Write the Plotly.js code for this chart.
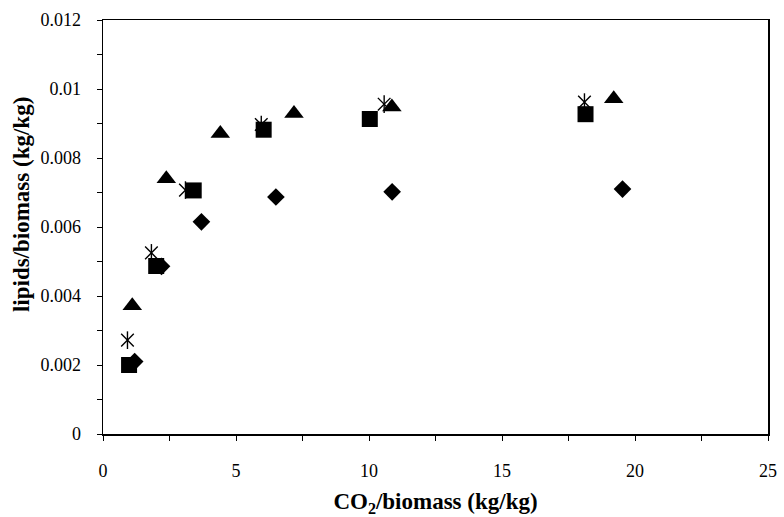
<!DOCTYPE html>
<html>
<head>
<meta charset="utf-8">
<script src="https://cdn.plot.ly/plotly-3.0.1.min.js"></script>
<style>html,body{margin:0;padding:0;background:#fff;}#chart{width:784px;height:517px;}</style>
</head>
<body>
<div id="chart"></div>
<script>
// Series 1: diamonds
const diamondX = [1.19, 2.2, 3.7, 6.5, 10.87, 19.53];
const diamondY = [0.0021, 0.00486, 0.00615, 0.00687, 0.00702, 0.00710];
// Series 2: squares
const squareX = [0.98, 2.0, 3.41, 6.04, 10.03, 18.14];
const squareY = [0.0020, 0.00487, 0.00706, 0.00882, 0.00913, 0.00927];
// Series 3: triangles
const triangleX = [1.1, 2.38, 4.41, 7.18, 10.86, 19.2];
const triangleY = [0.00372, 0.00740, 0.00871, 0.00929, 0.00948, 0.00972];
// Series 4: asterisks
const starX = [0.92, 1.82, 3.1, 5.95, 10.57, 18.1];
const starY = [0.00272, 0.00525, 0.00707, 0.00897, 0.00956, 0.00962];

const xTitle = 'CO<sub>2</sub>/biomass (kg/kg)';
const yTitle = 'lipids/biomass (kg/kg)';

const font = 'Liberation Serif, Times New Roman, serif';

const traces = [
  {x: diamondX, y: diamondY, mode: 'markers', type: 'scatter',
   marker: {symbol: 'diamond', size: 13.6, color: '#000'}},
  {x: squareX, y: squareY, mode: 'markers', type: 'scatter',
   marker: {symbol: 'square', size: 16, color: '#000'}},
  {x: triangleX, y: triangleY, mode: 'markers', type: 'scatter',
   marker: {symbol: 'triangle-up', size: 17, color: '#000'}},
  // asterisk drawn as an X plus a vertical stroke at the same points
  {x: starX, y: starY, mode: 'markers', type: 'scatter',
   marker: {symbol: 'x-thin-open', size: 12.6, color: '#000', line: {color: '#000', width: 1.4}}},
  {x: starX, y: starY, mode: 'markers', type: 'scatter',
   marker: {symbol: 'line-ns-open', size: 12.6, color: '#000', line: {color: '#000', width: 1.4}}}
];

const layout = {
  width: 784, height: 517,
  margin: {l: 103, r: 16, t: 20, b: 83},
  paper_bgcolor: '#fff', plot_bgcolor: '#fff',
  showlegend: false,
  font: {family: font, color: '#000', size: 18},
  xaxis: {
    range: [0, 25], dtick: 5, tick0: 0,
    showgrid: false, zeroline: false,
    showline: true, linecolor: '#000', linewidth: 1.5, mirror: true,
    ticks: 'outside', ticklen: 5, tickwidth: 1, tickcolor: '#000',
    minor: {dtick: 2.5, ticks: 'outside', ticklen: 5, tickwidth: 1, tickcolor: '#000', showgrid: false},
    ticklabelstandoff: 15,
    tickfont: {family: font, size: 18, color: '#000'},
    title: {text: xTitle, standoff: 13, font: {family: font, size: 23, color: '#000', weight: 'bold'}},
    automargin: false
  },
  yaxis: {
    range: [0, 0.012], dtick: 0.002, tick0: 0,
    showgrid: false, zeroline: false,
    showline: true, linecolor: '#000', linewidth: 1.5, mirror: true,
    ticks: 'outside', ticklen: 5, tickwidth: 1, tickcolor: '#000',
    minor: {dtick: 0.001, ticks: 'outside', ticklen: 5, tickwidth: 1, tickcolor: '#000', showgrid: false},
    ticklabelstandoff: 12,
    tickfont: {family: font, size: 18, color: '#000'},
    automargin: false
  },
  annotations: [{
    text: yTitle, textangle: -90, showarrow: false,
    xref: 'paper', yref: 'paper', x: -0.1233, y: 0.553,
    xanchor: 'center', yanchor: 'middle',
    font: {family: font, size: 23, color: '#000', weight: 'bold'}
  }]
};

Plotly.newPlot('chart', traces, layout, {displayModeBar: false, staticPlot: true});
</script>
</body>
</html>
